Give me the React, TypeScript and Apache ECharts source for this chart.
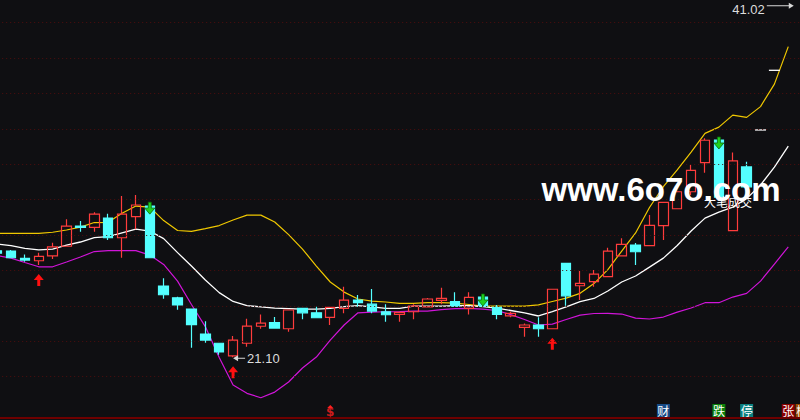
import React, { useEffect, useRef } from "react";
import * as echarts from "echarts";

// Category slots: slot 0 = the partly hidden bar at the left edge, slots 1..54 = visible bars
const DAYS: string[] = Array.from({ length: 59 }, (_, k) => `T${k}`);

const OPEN = [27.11, 27.10, 26.68, 26.55, 26.83, 27.37, 28.51, 28.44, 28.96, 27.85, 29.04, 29.64, 25.12, 24.46, 23.82, 22.41, 21.89, 21.18, 21.89, 22.85, 23.05, 22.71, 23.86, 23.61, 23.35, 23.86, 24.33, 24.10, 23.67, 23.52, 23.67, 23.95, 24.31, 24.24, 23.86, 24.50, 23.92, 23.44, 22.79, 22.92, 22.71, 26.40, 25.14, 25.37, 25.65, 26.83, 27.44, 27.40, 28.53, 29.49, 30.45, 32.09, 33.37, 28.25, 31.85];
const CLOSE = [26.98, 26.72, 26.59, 26.80, 27.33, 28.51, 28.44, 29.19, 27.85, 29.19, 29.70, 26.72, 24.63, 24.05, 22.94, 22.07, 21.40, 22.07, 22.86, 23.03, 22.75, 23.77, 23.61, 23.33, 23.92, 24.33, 24.18, 23.71, 23.50, 23.64, 23.99, 24.39, 24.43, 23.99, 24.48, 23.99, 23.52, 23.58, 22.92, 22.71, 24.94, 24.57, 25.27, 25.80, 27.10, 27.48, 27.06, 28.55, 29.85, 30.45, 31.66, 33.36, 30.15, 32.19, 30.73];
const LOW = [26.95, 26.70, 26.50, 26.31, 26.65, 27.35, 28.19, 28.19, 27.72, 26.72, 28.33, 26.72, 24.40, 23.78, 21.64, 21.92, 21.24, 21.10, 21.69, 22.71, 22.75, 22.54, 23.24, 23.33, 22.92, 23.58, 23.95, 23.58, 23.11, 23.11, 23.24, 23.94, 24.10, 23.99, 23.52, 23.96, 23.24, 23.36, 22.26, 22.26, 22.71, 24.01, 24.33, 25.08, 25.65, 26.83, 26.31, 27.40, 27.72, 29.49, 30.26, 31.52, 30.15, 28.25, 29.98];
const HIGH = [27.14, 27.16, 26.91, 27.00, 27.57, 28.89, 28.79, 29.29, 29.21, 30.21, 30.26, 29.75, 25.56, 24.52, 23.82, 23.14, 21.89, 22.30, 23.27, 23.52, 23.37, 23.77, 23.88, 23.95, 23.94, 25.08, 24.61, 24.95, 24.10, 23.66, 24.09, 24.45, 25.03, 24.77, 24.77, 24.56, 24.05, 23.67, 23.01, 23.36, 24.94, 26.40, 25.97, 26.03, 27.29, 27.82, 27.55, 29.13, 29.87, 30.73, 31.96, 33.47, 33.43, 32.66, 32.14];

const BOLL_UPPER = [28.10, 28.10, 28.10, 28.10, 28.16, 28.29, 28.45, 28.71, 28.72, 29.23, 29.64, 29.58, 28.82, 28.26, 28.21, 28.37, 28.54, 28.85, 29.13, 29.13, 28.74, 28.03, 27.21, 26.25, 25.35, 24.78, 24.39, 24.27, 24.22, 24.14, 24.14, 24.19, 24.19, 24.16, 24.08, 23.99, 23.99, 23.99, 23.99, 24.06, 24.25, 24.44, 24.71, 25.26, 26.05, 27.10, 28.12, 29.56, 30.74, 31.68, 32.69, 33.75, 34.10, 34.78, 34.65, 35.26, 36.53, 38.65];
const BOLL_MID = [27.49, 27.40, 27.25, 27.16, 27.21, 27.44, 27.61, 27.86, 27.91, 28.13, 28.34, 28.23, 27.80, 27.01, 26.25, 25.46, 24.75, 24.25, 24.02, 23.94, 23.88, 23.85, 23.82, 23.82, 23.86, 23.96, 24.02, 23.94, 23.86, 23.86, 23.99, 23.99, 23.99, 24.01, 24.01, 23.96, 23.88, 23.74, 23.60, 23.43, 23.68, 23.94, 24.24, 24.42, 24.84, 25.35, 25.69, 26.19, 26.70, 27.41, 28.23, 28.96, 29.30, 29.58, 30.06, 30.83, 31.84, 33.03];
const BOLL_LOWER = [26.84, 26.70, 26.45, 26.21, 26.21, 26.48, 26.76, 27.07, 27.12, 27.12, 27.12, 26.87, 26.34, 25.40, 24.08, 22.83, 21.08, 19.53, 19.06, 18.81, 19.13, 19.70, 20.49, 21.11, 22.07, 22.92, 23.61, 23.65, 23.67, 23.68, 23.71, 23.71, 23.79, 23.85, 23.86, 23.82, 23.74, 23.51, 23.23, 22.92, 22.97, 23.23, 23.48, 23.57, 23.58, 23.54, 23.31, 23.26, 23.37, 23.65, 23.88, 24.18, 24.18, 24.50, 24.71, 25.40, 26.36, 27.34];

const BUY_SLOTS = [3, 17, 40];
const SELL_SLOTS = [11, 35, 52];
const FLAT_SLOTS = [55, 56];
const FLAT_VALUES = [33.94, 37.31];
const MAX_SLOT = 57;
const MAX_VALUE = 41.02;
const MIN_SLOT = 17;
const MIN_VALUE = 21.1;
const GRID_LEVELS = [20, 22, 24, 26, 28, 30, 32, 34, 36, 38, 40];

const EVENT_SLOTS = [48, 52, 54, 57, 58];
const EVENT_TEXT = ["财", "跌", "停", "张", "榜"];
const EVENT_COLORS = ["#164a86", "#0b800b", "#0b8080", "#8a0000", "#9a4c00"];
const EVENT_LEVEL = 18.09;
const DOLLAR_SLOT = 24;
const DOLLAR_LEVEL = 17.98;
const DOLLAR_MARK_LEVEL = 18.32;

const BG = "#0f0f12";
const UP = "#ff3c3c";
const DOWN = "#54ffff";

const UP_ARROW = "path://M5 0 L10 6 L6.5 6 L6.5 12 L3.5 12 L3.5 6 L0 6 Z";
const DOWN_ARROW = "path://M3.5 0 L6.5 0 L6.5 6 L10 6 L5 12 L0 6 L3.5 6 Z";
const RIGHT_LONG_ARROW = "path://M0 2.5 L22 2.5 L22 0 L27 3 L22 6 L22 3.5 L0 3.5 Z";
const LEFT_ARROW = "path://M0 3 L5 0 L5 2.5 L12 2.5 L12 3.5 L5 3.5 L5 6 Z";

export default function App() {
  const ref = useRef<HTMLDivElement>(null);

  useEffect(() => {
    if (!ref.current) return;
    const chart = echarts.init(ref.current, null, { renderer: "svg" });

    const candles = OPEN.map((o, k) => [o, CLOSE[k], LOW[k], HIGH[k]]);

    const option: any = {
      animation: false,
      backgroundColor: BG,
      textStyle: { fontFamily: "Liberation Sans" },
      grid: { left: -9.82, right: -9.1, top: 0, bottom: 2, outerBoundsMode: "none", containLabel: false },
      xAxis: {
        type: "category",
        data: DAYS,
        boundaryGap: true,
        axisLine: { show: true, lineStyle: { color: "#6e0000", width: 2 } },
        axisTick: { show: false },
        axisLabel: { show: false },
        splitLine: { show: false },
      },
      yAxis: {
        type: "value",
        min: 17.667,
        max: 41.2825,
        axisLine: { show: false },
        axisTick: { show: false },
        axisLabel: { show: false },
        splitLine: { show: false },
      },
      series: [
        {
          type: "line",
          data: [],
          silent: true,
          z: 1,
          markLine: {
            silent: true,
            symbol: ["none", "none"],
            label: { show: false },
            lineStyle: { color: "#4e0e0e", type: [1, 3], width: 1, opacity: 1 },
            data: GRID_LEVELS.map((v) => ({ yAxis: v })),
          },
        },
        {
          type: "line",
          data: BOLL_UPPER,
          symbol: "none",
          silent: true,
          z: 2,
          lineStyle: { color: "#f0c800", width: 1.2 },
        },
        {
          type: "line",
          data: BOLL_MID,
          symbol: "none",
          silent: true,
          z: 2,
          lineStyle: { color: "#ffffff", width: 1.3 },
        },
        {
          type: "line",
          data: BOLL_LOWER,
          symbol: "none",
          silent: true,
          z: 2,
          lineStyle: { color: "#d014d8", width: 1.2 },
        },
        {
          type: "candlestick",
          data: candles,
          barWidth: 10,
          silent: true,
          z: 3,
          itemStyle: {
            color: "transparent",
            color0: DOWN,
            borderColor: UP,
            borderColor0: DOWN,
            borderWidth: 1.2,
          },
        },
        {
          type: "scatter",
          silent: true,
          z: 4,
          symbol: UP_ARROW,
          symbolSize: [10, 12],
          symbolOffset: [0, 15],
          itemStyle: { color: "#ff1010", opacity: 1 },
          data: BUY_SLOTS.map((k) => [k, LOW[k]]),
        },
        {
          type: "scatter",
          silent: true,
          z: 4,
          symbol: DOWN_ARROW,
          symbolSize: [10, 12],
          symbolOffset: [0, 4],
          itemStyle: { color: "#1ed21e", borderColor: "#0a6a0a", borderWidth: 0.8, opacity: 1 },
          data: SELL_SLOTS.map((k) => [k, HIGH[k]]),
        },
        {
          type: "scatter",
          silent: true,
          z: 4,
          symbol: "rect",
          symbolSize: [11, 1.3],
          itemStyle: { color: "#ffffff", opacity: 1 },
          data: FLAT_SLOTS.map((k, j) => [k, FLAT_VALUES[j]]),
        },
        {
          type: "scatter",
          silent: true,
          z: 5,
          symbol: RIGHT_LONG_ARROW,
          symbolSize: [27, 6],
          symbolOffset: [-8, 1],
          itemStyle: { color: "#d8d8d8", opacity: 1 },
          label: {
            show: true,
            position: "left",
            distance: 2,
            offset: [0, 4],
            formatter: () => MAX_VALUE.toFixed(2),
            color: "#dcdcdc",
            fontSize: 13,
            fontFamily: "Liberation Sans",
          },
          data: [[MAX_SLOT, MAX_VALUE]],
        },
        {
          type: "scatter",
          silent: true,
          z: 5,
          symbol: LEFT_ARROW,
          symbolSize: [12, 6],
          symbolOffset: [6, 1],
          itemStyle: { color: "#d8d8d8", opacity: 1 },
          label: {
            show: true,
            position: "right",
            distance: 2,
            offset: [0, 0],
            formatter: () => MIN_VALUE.toFixed(2),
            color: "#dcdcdc",
            fontSize: 13,
            fontFamily: "Liberation Sans",
          },
          data: [[MIN_SLOT, MIN_VALUE]],
        },
        {
          type: "scatter",
          silent: true,
          z: 5,
          symbol: "rect",
          symbolSize: [13, 13],
          data: EVENT_SLOTS.map((k, j) => ({
            value: [k, EVENT_LEVEL],
            name: EVENT_TEXT[j],
            itemStyle: { color: EVENT_COLORS[j], opacity: 1 },
          })),
          label: {
            show: true,
            position: "inside",
            formatter: (p: any) => p.name,
            color: "#ffffff",
            fontSize: 12,
            fontFamily: "Noto Sans CJK SC",
          },
        },
        {
          type: "scatter",
          silent: true,
          z: 5,
          symbol: "triangle",
          symbolSize: [6, 3],
          itemStyle: { color: "#ff2020", opacity: 1 },
          data: [[DOLLAR_SLOT, DOLLAR_MARK_LEVEL]],
        },
        {
          type: "scatter",
          silent: true,
          z: 5,
          symbolSize: 0,
          itemStyle: { color: "transparent" },
          label: {
            show: true,
            position: "inside",
            formatter: () => "$",
            color: "#ff2020",
            fontSize: 12,
            fontWeight: "bold",
            fontFamily: "DejaVu Sans",
          },
          data: [[DOLLAR_SLOT, DOLLAR_LEVEL]],
        },
      ],
      graphic: [
        {
          type: "text",
          x: 728,
          y: 201,
          z: 90,
          silent: true,
          style: {
            text: "大笔成交",
            font: '12px "Noto Sans CJK SC"',
            fill: "#ffffff",
            align: "center",
            verticalAlign: "middle",
            textAlign: "center",
            textVerticalAlign: "middle",
          },
        },
        {
          type: "text",
          x: 661,
          y: 189,
          z: 100,
          silent: true,
          style: {
            text: "www.6o7o.com",
            font: 'bold 33px "Liberation Sans"',
            fill: "#ffffff",
            align: "center",
            verticalAlign: "middle",
            textAlign: "center",
            textVerticalAlign: "middle",
          },
        },
      ],
    };

    chart.setOption(option);
    return () => chart.dispose();
  }, []);

  return (
    <div
      ref={ref}
      style={{ position: "fixed", left: 0, top: 0, width: 800, height: 420, background: BG }}
    />
  );
}
